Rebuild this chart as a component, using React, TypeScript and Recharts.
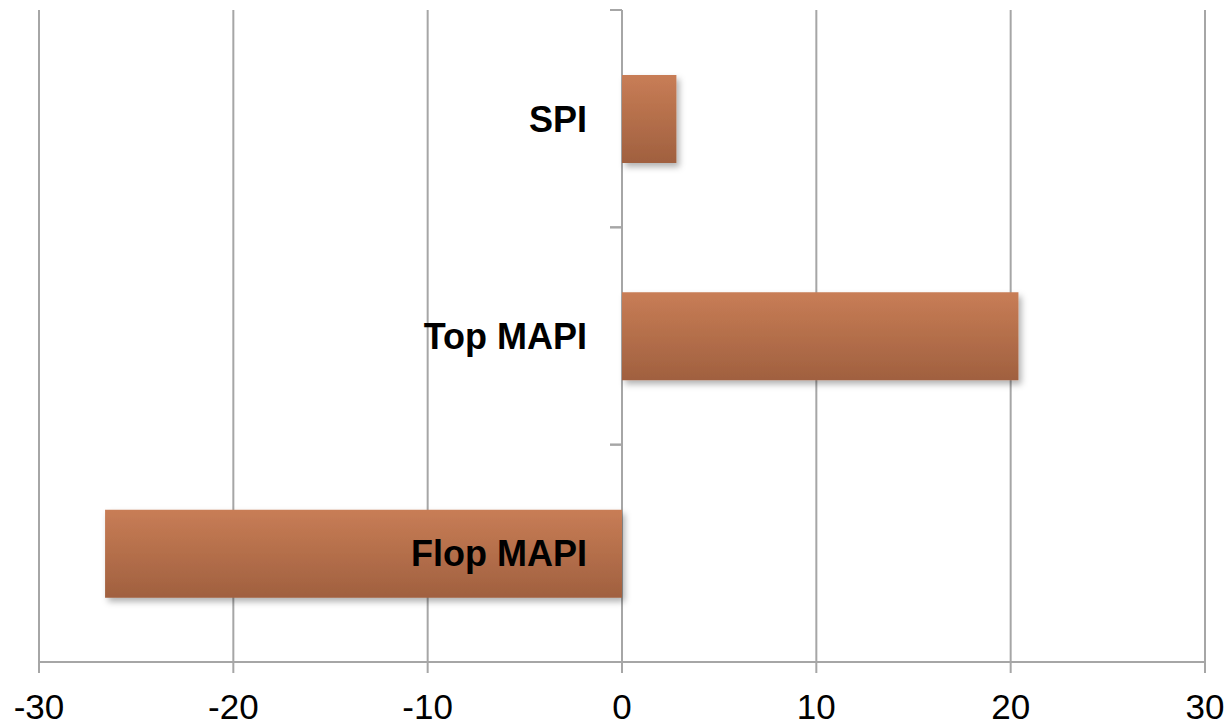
import { BarChart, Bar, XAxis, YAxis, CartesianGrid } from "recharts";

const categories = ["SPI", "Top MAPI", "Flop MAPI"];
const values = [2.8, 20.4, -26.6];
const xTicks = [-30, -20, -10, 0, 10, 20, 30];

const W = 1229;
const H = 725;
const Y_AXIS_W = 1;
const MARGIN = { top: 10, right: 24, left: 38, bottom: 0 };
const X_AXIS_H = 63;
const X_MIN = xTicks[0];
const X_MAX = xTicks[xTicks.length - 1];

const GRID = "#a6a6a6";
const FONT = "'Liberation Sans', Arial, Helvetica, sans-serif";

const plotLeft = MARGIN.left + Y_AXIS_W;
const plotW = W - plotLeft - MARGIN.right;
const plotH = H - MARGIN.top - MARGIN.bottom - X_AXIS_H;
const zeroX = plotLeft + (plotW * (0 - X_MIN)) / (X_MAX - X_MIN);
const band = plotH / categories.length;

const data = categories.map((name, i) => ({ name, value: values[i] }));

// category labels sit left of the zero line, with small ticks on band edges
function CategoryTick(props: any) {
  const { y, payload } = props;
  return (
    <g>
      <line x1={zeroX - 12} x2={zeroX} y1={y - band / 2} y2={y - band / 2} stroke={GRID} strokeWidth={2} />
      <line x1={zeroX - 12} x2={zeroX} y1={y + band / 2} y2={y + band / 2} stroke={GRID} strokeWidth={2} />
      <text
        x={zeroX - 35}
        y={y + 13}
        textAnchor="end"
        fontFamily={FONT}
        fontWeight="bold"
        fontSize={36}
        fill="#000"
      >
        {payload.value}
      </text>
    </g>
  );
}

export default function App() {
  return (
    <div style={{ position: "absolute", left: 0, top: 0, background: "#fff" }}>
      <BarChart width={W} height={H} data={data} layout="vertical" margin={MARGIN}>
        <defs>
          <linearGradient id="barFill" x1="0" y1="0" x2="0" y2="1">
            <stop offset="0%" stopColor="#c87d56" />
            <stop offset="100%" stopColor="#a0603f" />
          </linearGradient>
          <filter id="barShadow" x="-10%" y="-20%" width="130%" height="160%">
            <feDropShadow dx="3" dy="4" stdDeviation="3" floodColor="#000" floodOpacity="0.3" />
          </filter>
        </defs>
        <CartesianGrid horizontal={false} stroke={GRID} strokeWidth={2} />
        <XAxis
          type="number"
          domain={[X_MIN, X_MAX]}
          ticks={xTicks}
          height={X_AXIS_H}
          axisLine={{ stroke: GRID, strokeWidth: 2 }}
          tickLine={{ stroke: GRID, strokeWidth: 2 }}
          tickSize={11}
          tickMargin={21}
          tick={{ fontFamily: FONT, fontSize: 35, fill: "#000" }}
        />
        <Bar
          dataKey="value"
          barSize={88}
          fill="url(#barFill)"
          filter="url(#barShadow)"
          isAnimationActive={false}
        />
        <YAxis
          type="category"
          dataKey="name"
          width={Y_AXIS_W}
          axisLine={false}
          tickLine={false}
          tick={(p: any) => <CategoryTick {...p} />}
          interval={0}
        />
      </BarChart>
    </div>
  );
}
